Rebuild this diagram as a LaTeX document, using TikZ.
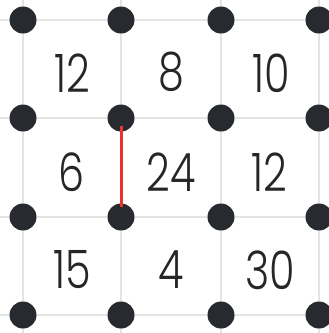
\documentclass[tikz,border=0pt]{standalone}
\usepackage{fontspec}
\setmainfont{Poppins Light}
\definecolor{dotc}{HTML}{272A2F}
\definecolor{redc}{HTML}{E8332E}
\definecolor{gridc}{HTML}{E4E4E4}
\begin{document}
\begin{tikzpicture}[x=1pt,y=-1pt,
  gridline/.style={draw=gridc,line width=2.5pt},
  dot/.style={circle,fill=dotc,minimum size=27pt,inner sep=0pt},
  num/.style={font=\fontsize{53}{53}\selectfont,text=black!85,inner sep=0pt,transform shape,xscale=0.78},
  redline/.style={draw=redc,line width=3pt}]
\useasboundingbox (0,0) rectangle (329,333);
\foreach \x [count=\i] in {23,121,221,319}{
  \draw[gridline] (\x,0) -- (\x,333);
}
\foreach \y [count=\j] in {20,118,217,315}{
  \draw[gridline] (0,\y) -- (329,\y);
}
\foreach \x [count=\i] in {23,121,221,319}{
  \foreach \y [count=\j] in {20,118,217,315}{
    \node[dot] (d\i\j) at (\x,\y) {};
  }
}
\draw[redline,shorten <=-6pt,shorten >=-4pt] (d22) -- (d23);
\node[num] (n11) at (72,73) {12};
\node[num] (n21) at (171,72) {8};
\node[num] (n31) at (271,73) {10};
\node[num] (n12) at (72,172) {6};
\node[num] (n22) at (171,172) {24};
\node[num] (n32) at (269,172) {12};
\node[num] (n13) at (72,270) {15};
\node[num] (n23) at (171,270) {4};
\node[num] (n33) at (270,270) {30};
\end{tikzpicture}
\end{document}
